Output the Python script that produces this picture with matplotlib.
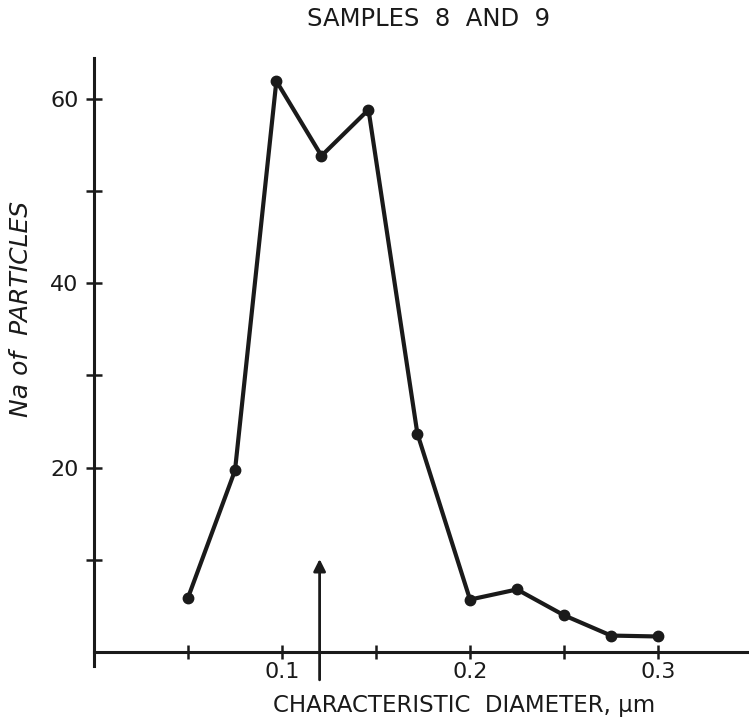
import matplotlib
matplotlib.use('Agg')
import matplotlib.pyplot as plt

# -----------------------------------------------------------------------
# Data
# -----------------------------------------------------------------------
DIAMETER  = [0.050, 0.075, 0.097, 0.121, 0.146, 0.172, 0.200, 0.225, 0.250, 0.275, 0.300]
PARTICLES = [5.9, 19.7, 61.9, 53.8, 58.8, 23.7, 5.7, 6.8, 4.0, 1.8, 1.7]

CHAR_DIAMETER = 0.120          # arrow marking the characteristic diameter
ARROW_SPAN    = (-3.0, 10.1)

X_MAJOR = [0.1, 0.2, 0.3]
X_MINOR = [0.05, 0.15, 0.25]
Y_MAJOR = [20, 40, 60]
Y_MINOR = [10, 30, 50]

INK = "#1a1a1a"


def main():
    fig = plt.figure(figsize=(7.49, 7.19), dpi=100)
    ax = fig.add_axes([0.1255, 0.0737, 0.8745, 0.8456])

    ax.plot(DIAMETER, PARTICLES, color=INK, linewidth=3.0,
            marker='o', markersize=7.5, solid_joinstyle='round')

    # arrow at the characteristic diameter
    ax.annotate("", xy=(CHAR_DIAMETER, ARROW_SPAN[1]),
                xytext=(CHAR_DIAMETER, ARROW_SPAN[0]),
                arrowprops=dict(arrowstyle="-|>", color=INK, lw=2.0,
                                mutation_scale=18, shrinkA=0, shrinkB=0),
                annotation_clip=False)

    ax.set_xlim(0, 0.3484)
    ax.set_ylim(-1.5, 64.4)

    for side in ("top", "right"):
        ax.spines[side].set_visible(False)
    ax.spines["bottom"].set_position(("data", 0))
    for side in ("left", "bottom"):
        ax.spines[side].set_linewidth(2.2)
        ax.spines[side].set_color(INK)

    ax.set_xticks(X_MAJOR)
    ax.set_xticklabels(["0.1", "0.2", "0.3"])
    ax.set_xticks(X_MINOR, minor=True)
    ax.set_yticks(Y_MAJOR)
    ax.set_yticks(Y_MINOR, minor=True)

    ax.tick_params(axis='both', which='both', direction='inout',
                   color=INK, width=1.8, labelsize=16, labelcolor=INK)
    ax.tick_params(axis='x', which='both', length=10, pad=2)
    ax.tick_params(axis='y', which='both', length=12, pad=5)

    # label sits right of the axes centre in the original
    ax.set_xlabel("CHARACTERISTIC  DIAMETER, \u03bcm", fontsize=16.5,
                  color=INK, labelpad=9, x=0.565)

    fig.text(0.028, 0.57, "Na of  PARTICLES", rotation=90, fontsize=18,
             style='italic', color=INK, ha='center', va='center')
    fig.text(0.572, 0.974, "SAMPLES  8  AND  9", fontsize=17.5,
             color=INK, ha='center', va='center')

    fig.savefig("out.png", dpi=100)
    plt.close(fig)


if __name__ == '__main__':
    main()
